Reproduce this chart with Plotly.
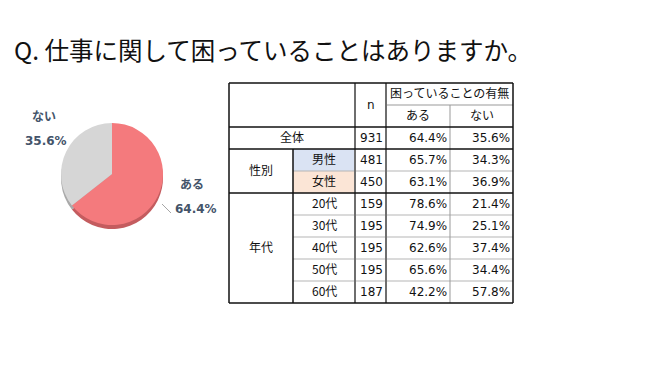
import plotly.graph_objects as go

# ---------------- data ----------------
title_text = "Q. 仕事に関して困っていることはありますか。"
pie_labels = ["ある", "ない"]
pie_values = [64.4, 35.6]

header_group = "困っていることの有無"
header_cols = ["ある", "ない"]
group_labels = ["全体", "性別", "年代"]
row_labels = ["全体", "男性", "女性", "20代", "30代", "40代", "50代", "60代"]
n_values = [931, 481, 450, 159, 195, 195, 195, 187]
aru_values = [64.4, 65.7, 63.1, 78.6, 74.9, 62.6, 65.6, 42.2]
nai_values = [35.6, 34.3, 36.9, 21.4, 25.1, 37.4, 34.4, 57.8]

# ---------------- layout params ----------------
W, H = 650, 365
FONT = "Noto Sans CJK JP"
NUMFONT = "DejaVu Sans"
CJK_DY = -2  # baseline compensation for the CJK font
col_edges = [229, 293, 355, 386, 450, 513]
row_top = 83
row_h = 22
n_rows = 2 + len(row_labels)
row_edges = [row_top + row_h * k for k in range(n_rows + 1)]

pie_cx, pie_cy, pie_r, rim = 112, 174, 51, 4
pie_colors = ["#F47A7D", "#D6D6D6"]
rim_colors = ["#C45C5F", "#A9A9A9"]
label_color = "#44546A"

fig = go.Figure()

def pie_domain(cx, cy, r):
    return dict(x=[(cx - r) / W, (cx + r) / W], y=[1 - (cy + r) / H, 1 - (cy - r) / H])

# rim (3D shadow)
fig.add_trace(go.Pie(labels=pie_labels, values=pie_values, sort=False, direction="clockwise",
                     rotation=0, marker=dict(colors=rim_colors, line=dict(width=0)),
                     textinfo="none", hoverinfo="skip", showlegend=False,
                     domain=pie_domain(pie_cx, pie_cy + rim, pie_r)))
fig.add_trace(go.Pie(labels=pie_labels, values=pie_values, sort=False, direction="clockwise",
                     rotation=0, marker=dict(colors=pie_colors, line=dict(width=0)),
                     textinfo="none", showlegend=False,
                     domain=pie_domain(pie_cx, pie_cy, pie_r)))

# invisible trace to activate axes
fig.add_trace(go.Scatter(x=[0, W], y=[0, H], mode="markers", marker=dict(opacity=0),
                         hoverinfo="skip", showlegend=False))

shapes = []
# cell backgrounds for 男性 / 女性
bg = {"男性": "#DAE3F3", "女性": "#FBE5D6"}
for i, lab in enumerate(row_labels):
    if lab in bg:
        r = 2 + i
        shapes.append(dict(type="rect", xref="x", yref="y", x0=col_edges[1], x1=col_edges[2],
                           y0=row_edges[r], y1=row_edges[r + 1], fillcolor=bg[lab], line=dict(width=0),
                           layer="below"))

def hline(k, c0, c1, color, w):
    shapes.append(dict(type="line", xref="x", yref="y", x0=col_edges[c0], x1=col_edges[c1],
                       y0=row_edges[k], y1=row_edges[k], line=dict(color=color, width=w)))

def vline(c, k0, k1, color, w):
    shapes.append(dict(type="line", xref="x", yref="y", x0=col_edges[c], x1=col_edges[c],
                       y0=row_edges[k0], y1=row_edges[k1], line=dict(color=color, width=w)))

BLACK, DARK, MID, LIGHT = "#111111", "#6E6E6E", "#999999", "#B5B5B5"
hline(1, 3, 5, MID, 1)
for k in range(4, n_rows):
    if k != 5:
        hline(k, 1, 5, LIGHT, 1)
vline(4, 1, n_rows, MID, 1)
vline(2, 0, n_rows, DARK, 2)
vline(3, 0, n_rows, DARK, 2)
vline(1, 3, n_rows, BLACK, 1.5)
for k in [0, 2, 3, 5, n_rows]:
    hline(k, 0, 5, BLACK, 1.5)
vline(0, 0, n_rows, BLACK, 1.5)
vline(5, 0, n_rows, BLACK, 1.5)

# leader line for ある label
shapes.append(dict(type="line", xref="x", yref="y", x0=162, y0=204, x1=171, y1=213,
                   line=dict(color="#A6A6A6", width=1)))

ann = []
def txt(x, y, s, anchor="center", size=12, color="#111111", family=FONT):
    dy = CJK_DY if family == FONT else 0
    ann.append(dict(x=x, y=y + dy, xref="x", yref="y", text=s, showarrow=False, xanchor=anchor,
                    yanchor="middle", font=dict(family=family, size=size, color=color)))

def mid(a, b):
    return (a + b) / 2

# header
txt(mid(col_edges[2], col_edges[3]), mid(row_edges[0], row_edges[2]), "n", family=NUMFONT)
txt(mid(col_edges[3], col_edges[5]), mid(row_edges[0], row_edges[1]), header_group)
txt(mid(col_edges[3], col_edges[4]), mid(row_edges[1], row_edges[2]), header_cols[0])
txt(mid(col_edges[4], col_edges[5]), mid(row_edges[1], row_edges[2]), header_cols[1])
# group labels
txt(mid(col_edges[0], col_edges[2]), mid(row_edges[2], row_edges[3]), group_labels[0])
txt(mid(col_edges[0], col_edges[1]), mid(row_edges[3], row_edges[5]), group_labels[1])
txt(mid(col_edges[0], col_edges[1]), mid(row_edges[5], row_edges[n_rows]), group_labels[2])
# body
pad = 1
for i, lab in enumerate(row_labels):
    r = 2 + i
    yc = mid(row_edges[r], row_edges[r + 1])
    if i > 0:
        txt(mid(col_edges[1], col_edges[2]), yc, lab)
    txt(col_edges[3] - pad, yc, str(n_values[i]), "right", family=NUMFONT)
    txt(col_edges[4] - pad, yc, f"{aru_values[i]:.1f}%", "right", family=NUMFONT)
    txt(col_edges[5] - pad, yc, f"{nai_values[i]:.1f}%", "right", family=NUMFONT)

# pie labels
def plabel(x, y, s, family):
    dy = CJK_DY if family == FONT else 0
    ann.append(dict(x=x, y=y + dy, xref="x", yref="y", text=f"<b>{s}</b>", showarrow=False,
                    xanchor="center", yanchor="middle",
                    font=dict(family=family, size=12, color=label_color)))
plabel(44, 117, pie_labels[1], FONT)
plabel(46, 141, f"{pie_values[1]:.1f}%", NUMFONT)
plabel(192, 185, pie_labels[0], FONT)
plabel(196, 209, f"{pie_values[0]:.1f}%", NUMFONT)

# title
ann.append(dict(x=12, y=51 + CJK_DY, xref="x", yref="y", text=title_text, showarrow=False,
                xanchor="left", yanchor="middle", font=dict(family=FONT, size=24.5, color="#111111")))

fig.update_layout(
    width=W, height=H, margin=dict(l=0, r=0, t=0, b=0),
    paper_bgcolor="white", plot_bgcolor="rgba(0,0,0,0)",
    xaxis=dict(range=[0, W], visible=False, fixedrange=True, domain=[0, 1]),
    yaxis=dict(range=[H, 0], visible=False, fixedrange=True, domain=[0, 1]),
    shapes=shapes, annotations=ann, showlegend=False,
)
fig.write_html("out.html", config={"displayModeBar": False},
               post_script="document.body.style.margin='0';document.body.style.overflow='hidden';")
